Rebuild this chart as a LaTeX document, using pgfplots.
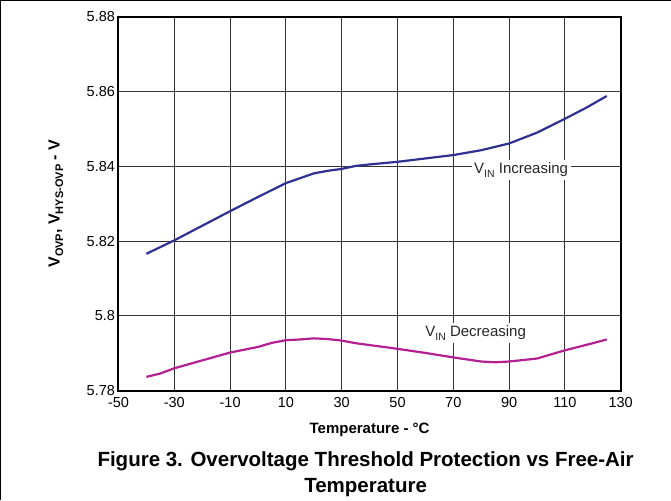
\documentclass[border=0pt]{standalone}
\usepackage{pgfplots}
\pgfplotsset{compat=1.18}
\usepackage{fontspec}
\setmainfont{Liberation Sans}

\definecolor{vinc}{RGB}{46,49,146}
\definecolor{vdec}{RGB}{178,32,145}

\begin{document}
\begin{tikzpicture}[x=1pt,y=1pt]
    \useasboundingbox (-118.5,-109.3) rectangle (552.5,390.7);
    % page frame (top and left edges)
    \draw[line width=1.2pt] (-117.8,-109.3) -- (-117.8,390) -- (552.5,390);
    \begin{axis}[
        at={(0,0)}, anchor=south west,
        scale only axis,
        width=502.2pt, height=374pt,
        xmin=-50, xmax=130,
        ymin=5.78, ymax=5.88,
        xtick={-50,-30,-10,10,30,50,70,90,110,130},
        xticklabels={-50,-30,-10,10,30,50,70,90,\raisebox{-4pt}{110},130},
        ytick={5.78,5.8,5.82,5.84,5.86,5.88},
        yticklabels={5.78,5.8,5.82,5.84,5.86,5.88},
        /pgf/number format/assume math mode=true,
        ticklabel style={font=\fontsize{14.5}{16}\selectfont},
        xticklabel style={yshift=-3pt},
        tick style={draw=none},
        grid=major,
        major grid style={black!80, line width=0.9pt},
        axis line style={line width=2pt},
        xlabel={Temperature - \textdegree C},
        xlabel style={at={(axis description cs:0.5,-0.1043)}, anchor=center,
            font=\bfseries\fontsize{15}{17}\selectfont},
        ylabel={V\raisebox{-3.5pt}{\fontsize{11}{12}\selectfont OVP}, V\raisebox{-3.5pt}{\fontsize{11}{12}\selectfont HYS-OVP} - V},
        ylabel style={at={(axis description cs:-0.1245,0.5)}, anchor=center,
            font=\bfseries\fontsize{16}{18}\selectfont},
        clip=false,
    ]
        \addplot[vinc, line width=2.2pt] coordinates {
            (-40,5.8166) (-35,5.8184) (-30,5.8202) (-20,5.8241) (-10,5.8280)
            (0,5.8318) (10,5.8355) (15,5.8368) (20,5.8381) (25,5.8388)
            (30,5.8393) (35,5.8401) (40,5.8405) (50,5.8412) (60,5.8421)
            (70,5.8430) (80,5.8443) (90,5.8461) (100,5.8490) (110,5.8527)
            (118,5.8558) (125,5.8588)
        };
        \addplot[vdec, line width=2.2pt] coordinates {
            (-40,5.7837) (-35,5.7846) (-30,5.7860) (-20,5.7881) (-10,5.7902)
            (0,5.7917) (5,5.7928) (10,5.7935) (15,5.7937) (20,5.7940)
            (25,5.7938) (30,5.7934) (35,5.7927) (40,5.7922) (50,5.7912)
            (60,5.7901) (70,5.7889) (80,5.7878) (85,5.7876) (90,5.7878)
            (100,5.7886) (110,5.7908) (120,5.7927) (125,5.7937)
        };
        \node[fill=white, inner sep=2.5pt, anchor=base, font=\fontsize{15}{17}\selectfont, text=black!85]
            at (axis cs:94.3,5.838) {V\raisebox{-3.5pt}{\fontsize{10.5}{11}\selectfont IN} Increasing};
        \node[fill=white, inner sep=2.5pt, anchor=base, font=\fontsize{15}{17}\selectfont, text=black!85]
            at (axis cs:78,5.7944) {V\raisebox{-3.5pt}{\fontsize{10.5}{11}\selectfont IN} Decreasing};
        \node[align=center, font=\bfseries\fontsize{20.5}{26}\selectfont]
            at (rel axis cs:0.5,0) [xshift=-4pt, yshift=-83pt]
            {Figure 3. Overvoltage Threshold Protection vs Free-Air\\Temperature};
    \end{axis}
\end{tikzpicture}
\end{document}
